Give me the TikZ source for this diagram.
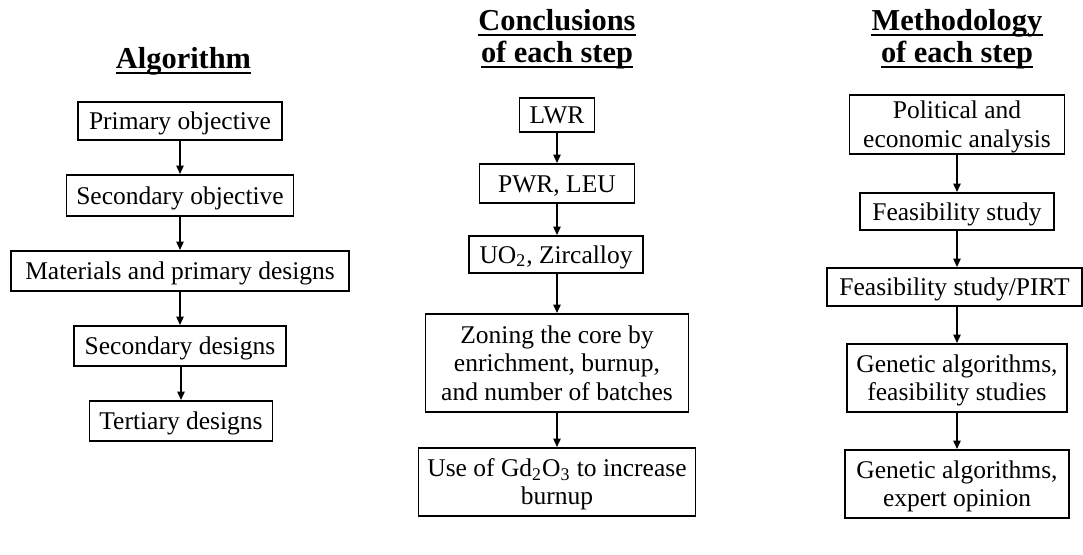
\documentclass[tikz,border=0pt]{standalone}
\usepackage{fontspec}
\setmainfont{Liberation Serif}
\usetikzlibrary{arrows.meta}
\newcommand{\tb}[1]{\raisebox{-1.5pt}[\height][\depth]{\begin{tabular}{@{}c@{}}#1\end{tabular}}}
\tikzset{
  box/.style={draw=black, line width=0.95pt, inner sep=0pt,
    font=\fontsize{12.75}{14.2}\selectfont},
  ttl/.style={inner sep=0pt, anchor=base, font=\fontsize{15.2}{16}\selectfont\bfseries},
  uline/.style={line width=1.1pt},
  arr/.style={line width=0.9pt, -{Triangle[length=4.2pt,width=3.6pt]}}
}
\begin{document}
\begin{tikzpicture}[x=0.5pt,y=-0.5pt]
\useasboundingbox (0,0) rectangle (1083,554);
% titles
\node[ttl] (t1) at (183.5,68) {Algorithm};
\node[ttl] (t2a) at (557,30) {Conclusions};
\node[ttl] (t2b) at (557,62) {of each step};
\node[ttl] (t3a) at (957,30) {Methodology};
\node[ttl] (t3b) at (957,62) {of each step};
\foreach \t in {t1,t2a,t2b,t3a,t3b}
  \draw[uline] ([yshift=-2.4pt]\t.base west) -- ([yshift=-2.4pt]\t.base east);
% left column
\node[box, minimum width=102pt, minimum height=19pt] (a1) at (180,121) {\tb{Primary objective}};
\node[box, minimum width=113.5pt, minimum height=20.5pt] (a2) at (180,195.5) {\tb{Secondary objective}};
\node[box, minimum width=169pt, minimum height=20pt] (a3) at (180,271) {\tb{Materials and primary designs}};
\node[box, minimum width=106pt, minimum height=20pt] (a4) at (180,346) {\tb{Secondary designs}};
\node[box, minimum width=91.5pt, minimum height=20pt] (a5) at (181,421) {\tb{Tertiary designs}};
\draw[arr] (a1.south) -- (a1.south |- a2.north);
\draw[arr] (a2.south) -- (a2.south |- a3.north);
\draw[arr] (a3.south) -- (a3.south |- a4.north);
\draw[arr] (a4.south -| a5.north) -- (a5.north);
% middle column
\node[box, minimum width=37.5pt, minimum height=17pt] (b1) at (557,115) {\tb{LWR}};
\node[box, minimum width=77.5pt, minimum height=19.5pt] (b2) at (557,183.5) {\tb{PWR, LEU}};
\node[box, minimum width=87pt, minimum height=18.5pt] (b3) at (556,254.5) {\tb{UO\textsubscript{2}, Zircalloy}};
\node[box, minimum width=131.5pt, minimum height=49pt] (b4) at (557,363) {\tb{Zoning the core by\\enrichment, burnup,\\and number of batches}};
\node[box, minimum width=138.5pt, minimum height=34pt] (b5) at (557,482) {\tb{Use of Gd\textsubscript{2}O\textsubscript{3} to increase\\burnup}};
\draw[arr] (b1.south) -- (b1.south |- b2.north);
\draw[arr] (b2.south) -- (b2.south |- b3.north);
\draw[arr] (b3.south -| b4.north) -- (b4.north);
\draw[arr] (b4.south) -- (b4.south |- b5.north);
% right column
\node[box, minimum width=107.5pt, minimum height=29.5pt] (c1) at (957,124.5) {\tb{Political and\\economic analysis}};
\node[box, minimum width=97pt, minimum height=18.5pt] (c2) at (957,211.5) {\tb{Feasibility study}};
\node[box, minimum width=127.5pt, minimum height=19pt] (c3) at (954.5,287) {\tb{Feasibility study/PIRT}};
\node[box, minimum width=110pt, minimum height=34pt] (c4) at (957,378) {\tb{Genetic algorithms,\\feasibility studies}};
\node[box, minimum width=112pt, minimum height=34pt] (c5) at (957,484) {\tb{Genetic algorithms,\\expert opinion}};
\draw[arr] (c1.south) -- (c1.south |- c2.north);
\draw[arr] (c2.south) -- (c2.south |- c3.north);
\draw[arr] (c3.south -| c4.north) -- (c4.north);
\draw[arr] (c4.south) -- (c4.south |- c5.north);
\end{tikzpicture}
\end{document}
